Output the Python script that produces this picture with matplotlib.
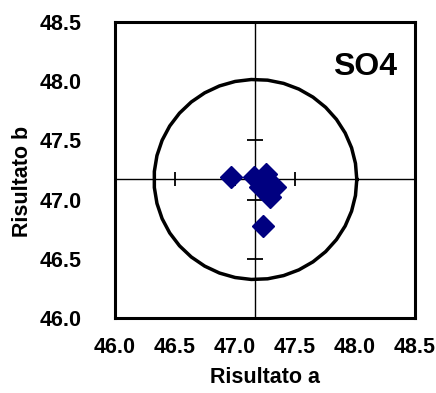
import numpy as np
import matplotlib
matplotlib.use('Agg')
import matplotlib.pyplot as plt

plt.rcParams['font.family'] = ['Liberation Sans', 'DejaVu Sans']
plt.rcParams['font.weight'] = 'bold'

# Results from the two determinations
risultato_a = [46.97, 47.16, 47.26, 47.21, 47.33, 47.29, 47.23, 47.25]
risultato_b = [47.19, 47.19, 47.22, 47.11, 47.11, 47.02, 46.78, 47.16]

# Reference value (crosshair) and acceptance radius
center_a = 47.17
center_b = 47.17
radius = 0.845
cross_ticks = [46.5, 47.0, 47.5]

axis_ticks = [46.0, 46.5, 47.0, 47.5, 48.0, 48.5]
title = 'SO4'

fig = plt.figure(figsize=(4.36, 3.93), dpi=100)
ax = fig.add_axes([0.2638, 0.1908, 0.688, 0.7532])

ax.set_xlim(46.0, 48.5)
ax.set_ylim(46.0, 48.5)
ax.set_xticks(axis_ticks)
ax.set_yticks(axis_ticks)
ax.set_xticklabels([f'{t:.1f}' for t in axis_ticks], fontsize=15.5, fontweight='bold')
ax.set_yticklabels([f'{t:.1f}' for t in axis_ticks], fontsize=15.5, fontweight='bold')
ax.tick_params(length=0)
ax.tick_params(axis='x', pad=14)
ax.tick_params(axis='y', pad=24)
for s in ax.spines.values():
    s.set_linewidth(2.2)

# crosshair through the reference value
ax.axvline(center_a, color='black', lw=1.0, zorder=1)
ax.axhline(center_b, color='black', lw=1.0, zorder=1)
ax.plot(cross_ticks, [center_b] * len(cross_ticks), ls='none', marker='|',
        ms=10, mew=1.3, color='black', zorder=1)
ax.plot([center_a] * len(cross_ticks), cross_ticks, ls='none', marker='_',
        ms=11, mew=1.3, color='black', zorder=1)

# acceptance circle
t = np.linspace(0, 2 * np.pi, 40)
ax.plot(center_a + radius * np.cos(t), center_b + radius * np.sin(t),
        color='black', lw=2.5, zorder=2)

ax.plot(risultato_a, risultato_b, ls='none', marker='D', ms=11,
        color='#000080', zorder=3)

ax.text(0.94, 0.848, title, transform=ax.transAxes, ha='right', va='center',
        fontsize=23, fontweight='bold')

ax.set_xlabel('Risultato a', fontsize=15.5, fontweight='bold', labelpad=6)
ax.set_ylabel('Risultato b', fontsize=15.5, fontweight='bold')
ax.yaxis.set_label_coords(-0.275, 0.46)

plt.savefig('out.png', dpi=100)
